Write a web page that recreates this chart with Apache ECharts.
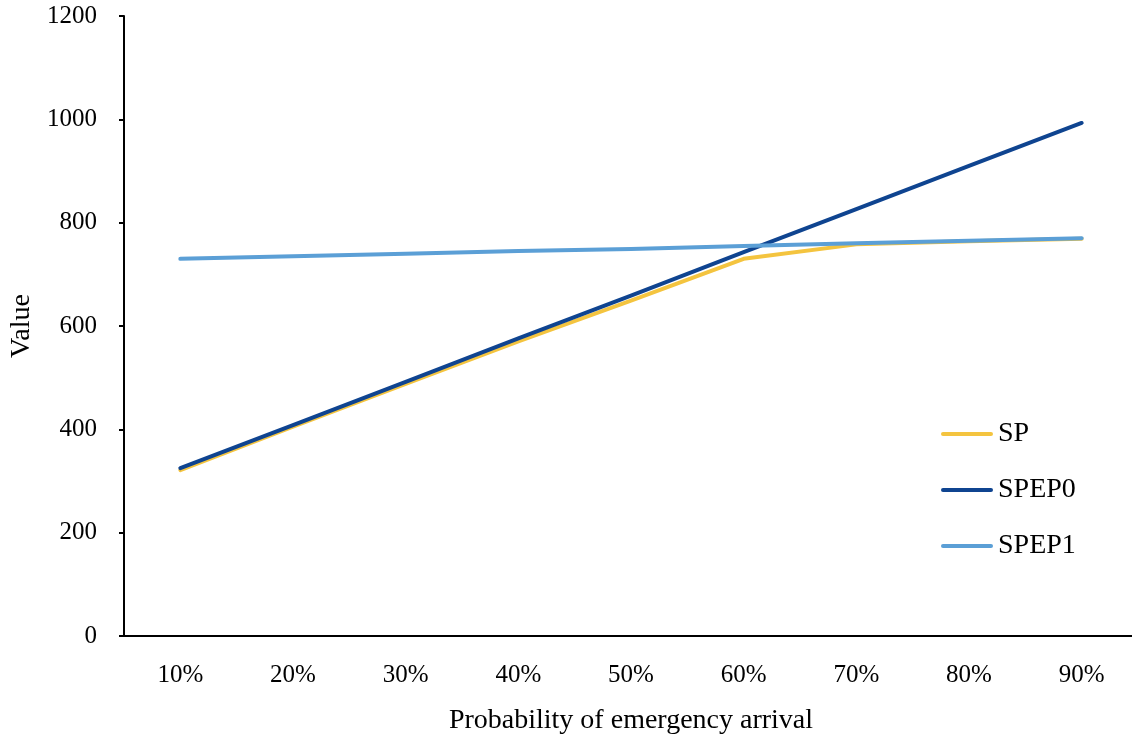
<!DOCTYPE html>
<html>
<head>
<meta charset="utf-8">
<script src="https://cdn.jsdelivr.net/npm/echarts@6/dist/echarts.min.js"></script>
<style>
html,body{margin:0;padding:0;background:#fff;}
#chart{width:1132px;height:737px;}
</style>
</head>
<body>
<div id="chart"></div>
<script>
const categories = ['10%','20%','30%','40%','50%','60%','70%','80%','90%'];
const spValues    = [321, 405, 488, 570, 649, 730, 758, 764, 769];
const spep0Values = [325, 408, 492, 576, 659, 743, 826, 910, 993];
const spep1Values = [730, 735, 740, 745, 749, 755, 760, 765, 770];
const yTicks = { min: 0, max: 1200, interval: 200 };

const FONT = '"Liberation Serif", "DejaVu Serif", serif';
const chart = echarts.init(document.getElementById('chart'));
chart.setOption({
  animation: false,
  backgroundColor: '#ffffff',
  textStyle: { fontFamily: FONT },
  grid: { left: 124, right: -6, top: 16, bottom: 101, containLabel: false, outerBoundsMode: 'none' },
  legend: {
    orient: 'vertical',
    left: 936,
    top: 413,
    itemWidth: 52,
    itemHeight: 14,
    itemGap: 24,
    icon: 'path://M1.75,5 L50.25,5 A2,2 0 0 1 50.25,9 L1.75,9 A2,2 0 0 1 1.75,5 Z',
    textStyle: { fontFamily: FONT, fontSize: 28, color: '#000', lineHeight: 28, padding: [4, 0, 0, 0] },
    data: ['SP', 'SPEP0', 'SPEP1']
  },
  xAxis: {
    type: 'category',
    data: categories,
    boundaryGap: true,
    name: 'Probability of emergency arrival',
    nameLocation: 'middle',
    nameGap: 71,
    nameTextStyle: { fontFamily: FONT, fontSize: 28, color: '#000' },
    axisLine: { lineStyle: { color: '#000', width: 2 } },
    axisTick: { show: false },
    axisLabel: { fontFamily: FONT, fontSize: 25, color: '#000', margin: 27 },
    splitLine: { show: false }
  },
  yAxis: {
    type: 'value',
    min: yTicks.min, max: yTicks.max, interval: yTicks.interval,
    name: 'Value',
    nameLocation: 'middle',
    nameGap: 87,
    nameTextStyle: { fontFamily: FONT, fontSize: 28, color: '#000' },
    axisLine: { show: true, lineStyle: { color: '#000', width: 2 } },
    axisTick: { show: true, inside: false, length: 5, lineStyle: { color: '#000', width: 2 } },
    axisLabel: { fontFamily: FONT, fontSize: 25, color: '#000', margin: 27,
      formatter: function (v) { return String(v); } },
    splitLine: { show: false }
  },
  series: [
    { name: 'SP', type: 'line', data: spValues, symbol: 'none', z: 2,
      lineStyle: { color: '#F4C43F', width: 4, cap: 'round', join: 'round' }, itemStyle: { color: '#F4C43F' } },
    { name: 'SPEP0', type: 'line', data: spep0Values, symbol: 'none', z: 3,
      lineStyle: { color: '#0F4490', width: 4, cap: 'round', join: 'round' }, itemStyle: { color: '#0F4490' } },
    { name: 'SPEP1', type: 'line', data: spep1Values, symbol: 'none', z: 4,
      lineStyle: { color: '#5B9FD6', width: 4, cap: 'round', join: 'round' }, itemStyle: { color: '#5B9FD6' } }
  ]
});
</script>
</body>
</html>
